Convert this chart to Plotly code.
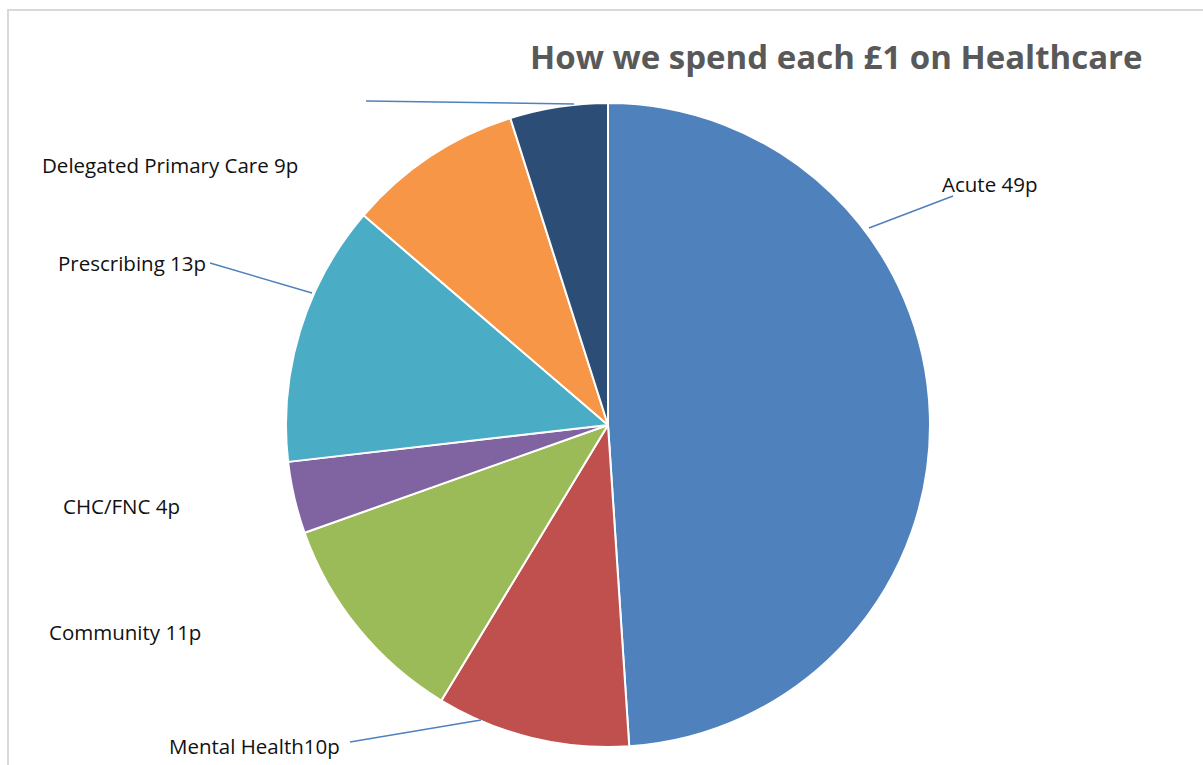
import plotly.graph_objects as go

W, H = 1203, 765

# Data (slice shares; labels as printed)
categories = ["Acute", "Mental Health", "Community", "CHC/FNC", "Prescribing", "Delegated Primary Care", "Other"]
values = [48.9, 9.7, 10.9, 3.6, 13.1, 8.8, 4.9]
label_texts = ["Acute 49p", "Mental Health10p", "Community 11p", "CHC/FNC 4p", "Prescribing 13p", "Delegated Primary Care 9p", ""]
colors = ["#4F81BD", "#C0504D", "#9BBB59", "#8064A2", "#4BACC6", "#F79646", "#2C4D75"]

def px(x, y):
    return x / W, 1 - y / H

# pie geometry (pixels)
cx, cy, r = 608, 425, 322
x0, _ = px(cx - r, 0)
x1, _ = px(cx + r, 0)
_, y1 = px(0, cy - r)
_, y0 = px(0, cy + r)

fig = go.Figure(go.Pie(
    labels=categories, values=values, sort=False, direction="clockwise", rotation=0,
    marker=dict(colors=colors, line=dict(color="white", width=2)),
    textinfo="none", hoverinfo="label+value", showlegend=False,
    domain=dict(x=[x0, x1], y=[y0, y1]),
))

# label positions (pixel, left anchor) and leader lines
label_pos = {
    "Acute": (940, 184),
    "Mental Health": (167, 746),
    "Community": (47, 632),
    "CHC/FNC": (61, 506),
    "Prescribing": (56, 263),
    "Delegated Primary Care": (40, 165),
}
leaders = [
    ((869, 228), (953, 196)),
    ((350, 742), (481, 720)),
    ((210, 263), (312, 293)),
    ((366, 101), (574, 104)),
]

annotations = []
for cat, txt in zip(categories, label_texts):
    if not txt or cat not in label_pos:
        continue
    lx, ly = label_pos[cat]
    ax, ay = px(lx, ly)
    annotations.append(dict(x=ax, y=ay, xref="paper", yref="paper", text=txt, showarrow=False,
                            xanchor="left", yanchor="middle",
                            font=dict(family="Open Sans", size=20.5, color="#111111")))

tx, ty = px(836, 57)
annotations.append(dict(x=tx, y=ty, xref="paper", yref="paper", text="<b>How we spend each £1 on Healthcare</b>",
                        showarrow=False, xanchor="center", yanchor="middle",
                        font=dict(family="Open Sans", size=33, color="#595959")))

shapes = []
for (a, b) in leaders:
    xa, ya = px(*a)
    xb, yb = px(*b)
    shapes.append(dict(type="line", xref="paper", yref="paper", x0=xa, y0=ya, x1=xb, y1=yb,
                       line=dict(color="#4F81BD", width=1.5)))
bx0, by0 = px(8, 10)
bx1, by1 = px(1215, 780)
shapes.append(dict(type="rect", xref="paper", yref="paper", x0=bx0, y0=by1, x1=bx1, y1=by0,
                   line=dict(color="#D9D9D9", width=2), fillcolor="rgba(0,0,0,0)"))

fig.update_layout(width=W, height=H, margin=dict(l=0, r=0, t=0, b=0),
                  paper_bgcolor="white", plot_bgcolor="white",
                  annotations=annotations, shapes=shapes)

fig.write_html("out.html")
